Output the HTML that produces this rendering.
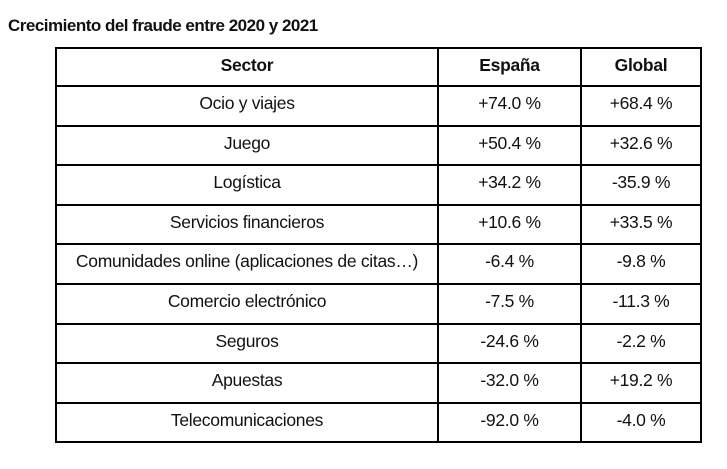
<!DOCTYPE html>
<html><head><meta charset="utf-8"><style>
body{margin:0;width:727px;height:469px;background:#fff;font-family:"Liberation Sans",sans-serif;color:#111;position:relative;overflow:hidden}
#title{position:absolute;left:8px;top:16px;font-size:17px;font-weight:bold;letter-spacing:-0.5px}
table{position:absolute;left:55px;top:47px;border-collapse:collapse;font-size:17.5px;letter-spacing:-0.3px}
td,th{border:2px solid #000;text-align:center;vertical-align:top;padding:6px 0 0 0;height:31.6px;line-height:20px;box-sizing:content-box}
th{font-weight:bold;height:30px}
</style></head><body>
<div id="title">Crecimiento del fraude entre 2020 y 2021</div>
<table>
<colgroup><col style="width:382px"><col style="width:143px"><col style="width:120px"></colgroup>
<tr><th>Sector</th><th>España</th><th>Global</th></tr>
<tr><td>Ocio y viajes</td><td>+74.0 %</td><td>+68.4 %</td></tr>
<tr><td>Juego</td><td>+50.4 %</td><td>+32.6 %</td></tr>
<tr><td>Logística</td><td>+34.2 %</td><td>-35.9 %</td></tr>
<tr><td>Servicios financieros</td><td>+10.6 %</td><td>+33.5 %</td></tr>
<tr><td>Comunidades online (aplicaciones de citas…)</td><td>-6.4 %</td><td>-9.8 %</td></tr>
<tr><td>Comercio electrónico</td><td>-7.5 %</td><td>-11.3 %</td></tr>
<tr><td>Seguros</td><td>-24.6 %</td><td>-2.2 %</td></tr>
<tr><td>Apuestas</td><td>-32.0 %</td><td>+19.2 %</td></tr>
<tr><td>Telecomunicaciones</td><td>-92.0 %</td><td>-4.0 %</td></tr>
</table>
</body></html>
